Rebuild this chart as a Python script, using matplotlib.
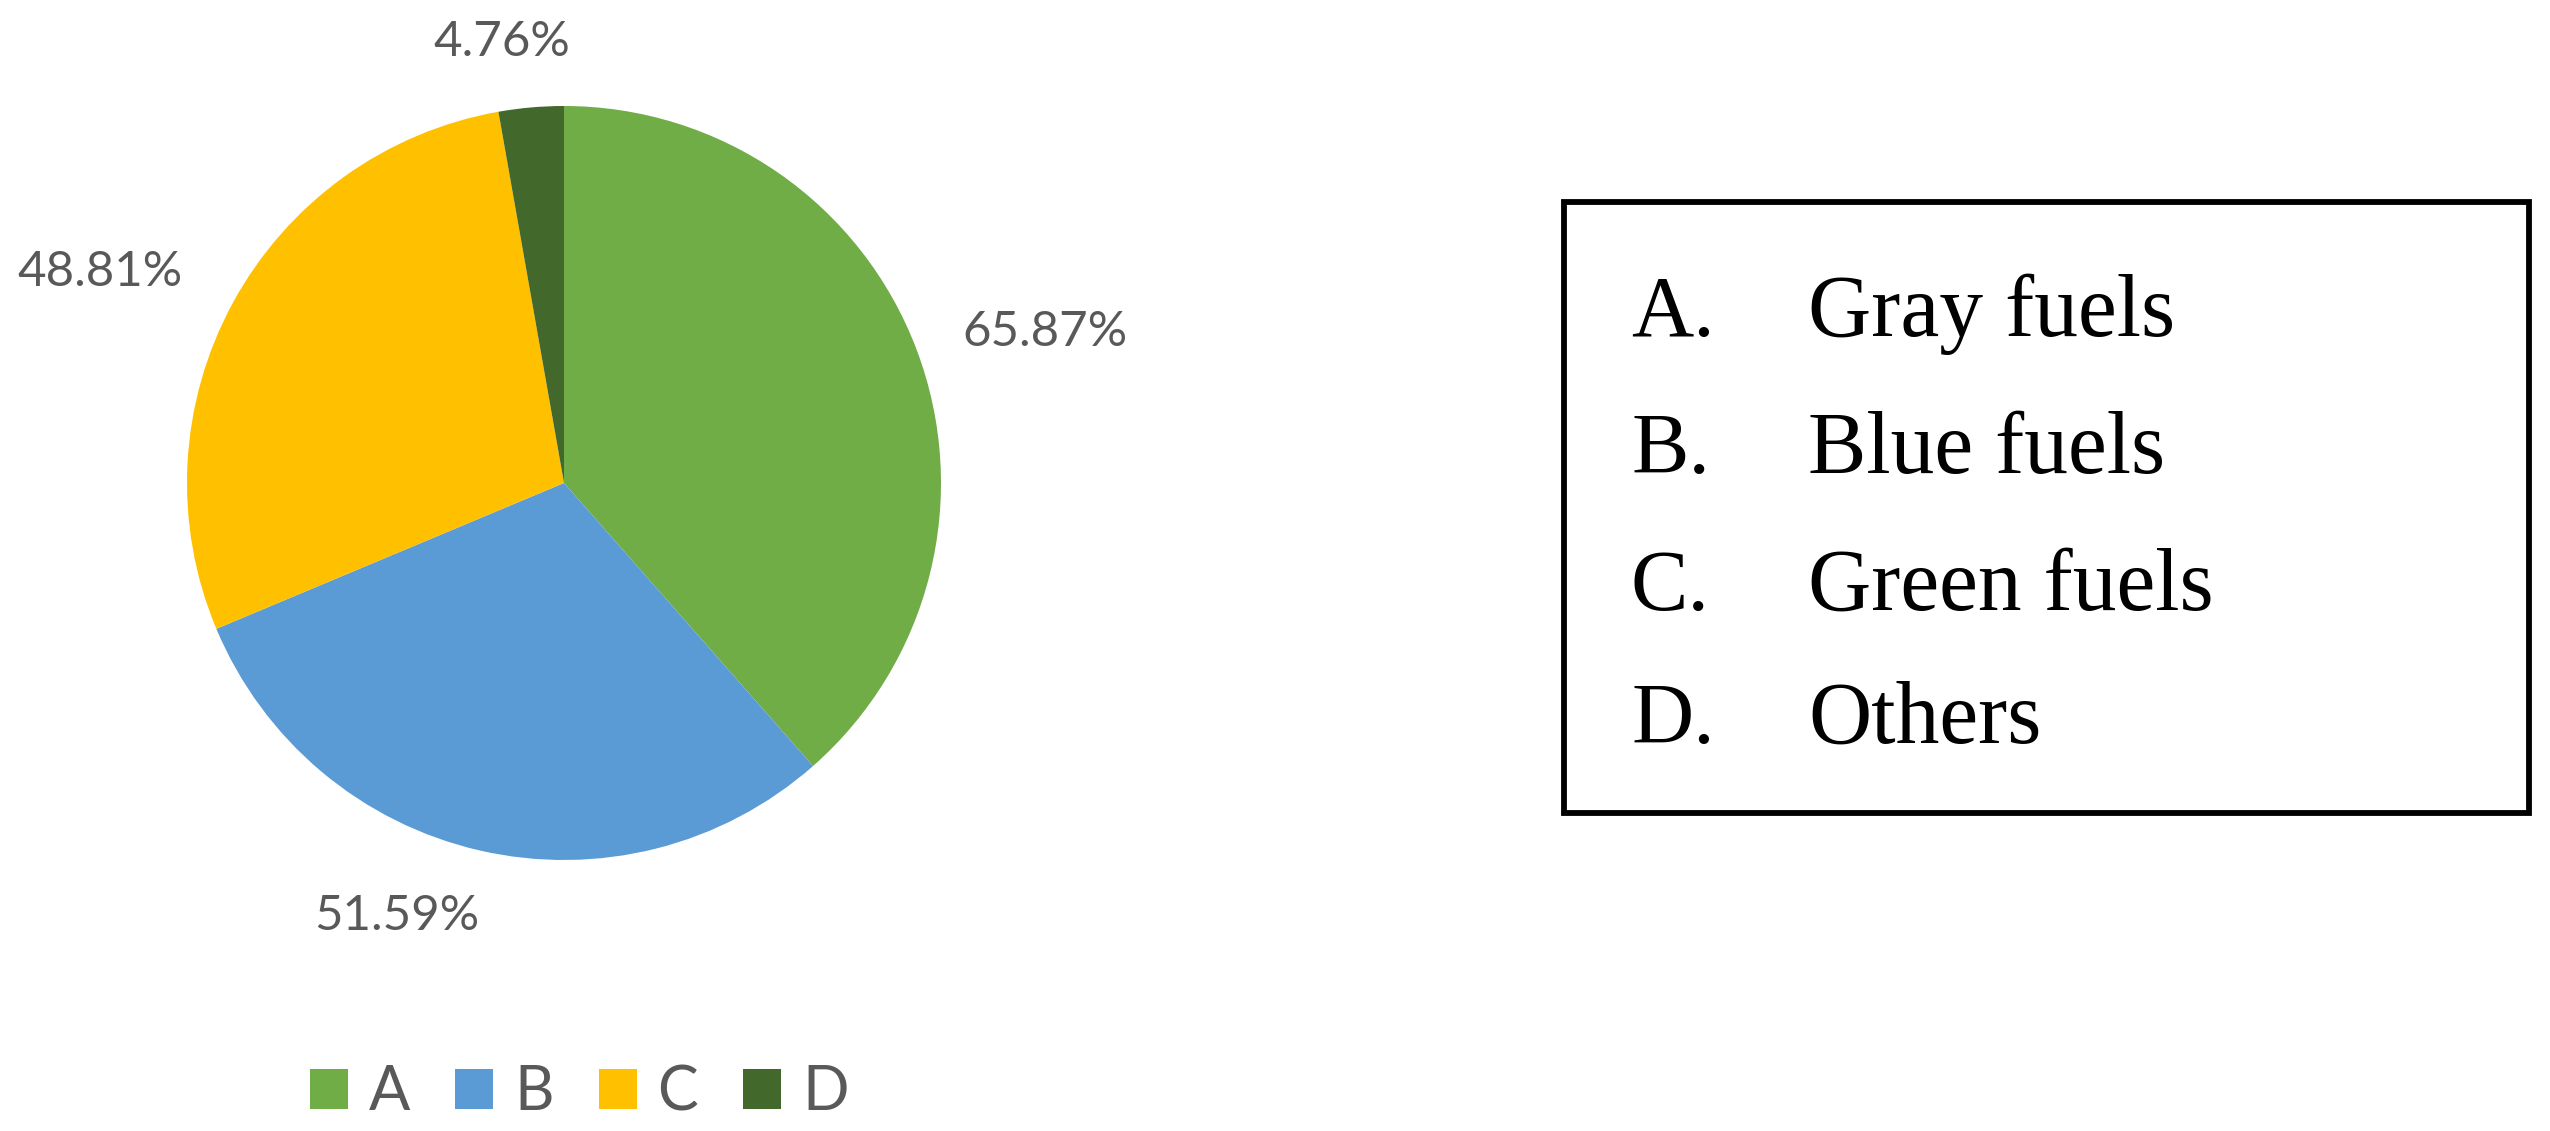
import matplotlib
matplotlib.use("Agg")
import matplotlib.pyplot as plt
from matplotlib.patches import Rectangle

# values as printed on the chart (they are shares, not summing to 100)
cats = ["A", "B", "C", "D"]
vals = [65.87, 51.59, 48.81, 4.76]
colors = ["#70AD47", "#5B9BD5", "#FFC000", "#43682B"]
names = ["Gray fuels", "Blue fuels", "Green fuels", "Others"]

W, H = 2550, 1131
GRAY = "#595959"

fig = plt.figure(figsize=(W / 100, H / 100), dpi=100)
ax = fig.add_axes([0, 0, 1, 1])

def py(y):
    # pixel row (from top) -> data y
    return H - y

cx, cy, R = 564, 483, 377
wedges, _ = ax.pie(vals, colors=colors, startangle=90, counterclock=False,
                   center=(cx, py(cy)), radius=R)

# data labels, outside end
lab_pos = [(1045, 332), (397, 916), (100, 272), (502, 42)]
for v, (x, y) in zip(vals, lab_pos):
    ax.text(x, py(y), f"{v:.2f}%", ha="center", va="center",
            fontsize=35.5, color=GRAY, family=["Lato", "DejaVu Sans"])

ax.set_xlim(0, W)
ax.set_ylim(0, H)
ax.set_aspect("equal")
ax.set_axis_off()

# bottom legend
leg = ax.legend(wedges, cats, loc="center left", ncol=4, frameon=False,
                bbox_to_anchor=(310 / W, 1 - 1093 / H), bbox_transform=fig.transFigure,
                borderpad=0, borderaxespad=0, handlelength=0.62, handleheight=0.62,
                handletextpad=0.34, columnspacing=0.74,
                prop={"family": "Lato", "size": 44})
for t in leg.get_texts():
    t.set_color(GRAY)

# right-hand key box
ax.add_patch(Rectangle((1564, py(813)), 2529 - 1564, 813 - 202, fill=False,
                       ec="black", lw=4.2, zorder=3))
base = [336, 473, 610, 743]
for c, n, b in zip(cats, names, base):
    ax.text(1631, py(b), c + ".", ha="left", va="baseline", fontsize=62,
            family="Liberation Serif", color="black")
    ax.text(1808, py(b), n, ha="left", va="baseline", fontsize=63,
            family="Liberation Serif", color="black")

fig.savefig("out.png", dpi=100)
